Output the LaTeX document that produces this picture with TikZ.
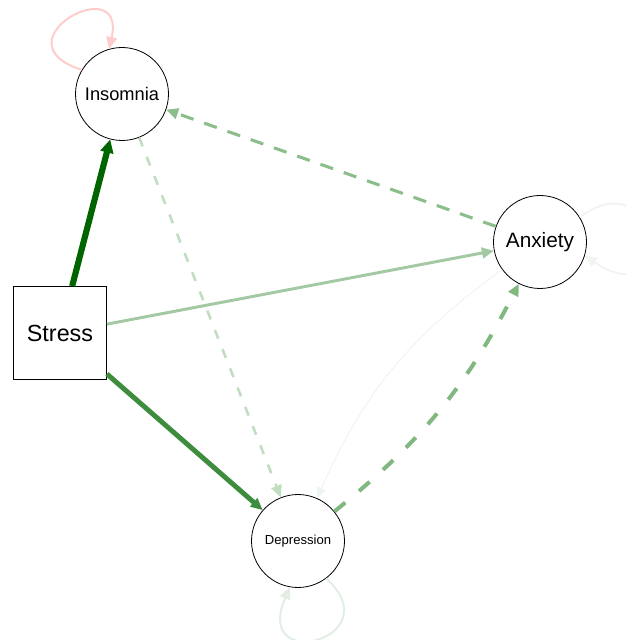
\documentclass[tikz,border=0pt]{standalone}
\usepackage{fontspec}
\setmainfont{Liberation Sans}
\usetikzlibrary{arrows.meta}

% edge colours, strongest to faintest
\definecolor{eDark}{RGB}{0,100,0}
\definecolor{eMid}{RGB}{62,140,62}
\definecolor{eLight}{RGB}{163,201,163}
\definecolor{eDash}{RGB}{140,190,140}
\definecolor{eDashB}{RGB}{128,184,128}
\definecolor{eDashC}{RGB}{192,221,192}
\definecolor{eFaint}{RGB}{238,244,238}
\definecolor{loopPink}{RGB}{255,204,204}
\definecolor{loopFaint}{RGB}{240,245,240}
\definecolor{loopDep}{RGB}{226,238,226}

\begin{document}
\begin{tikzpicture}[x=0.75pt,y=0.75pt,
  var/.style={circle, draw=black, line width=0.6pt, fill=white,
              minimum size=69.75pt, inner sep=0pt},
  obs/.style={rectangle, draw=black, line width=0.6pt, fill=white,
              minimum size=69.75pt, inner sep=0pt},
  tip/.style={-{Triangle[length=9pt,width=8pt]}},
  bigtip/.style={-{Triangle[length=10pt,width=9.5pt]}},
  smalltip/.style={-{Triangle[length=8pt,width=7pt]}},
  loopedge/.style={tip, line width=1.5pt},
]
\clip (0,0) rectangle (626,640);

% variables
\node[obs] (stress) at (60,307) {\fontsize{17.5}{20}\selectfont Stress};
\node[var] (ins) at (122,546) {\fontsize{13.7}{16}\selectfont Insomnia};
\node[var] (anx) at (540,398) {\fontsize{15.6}{18}\selectfont Anxiety};
\node[var] (dep) at (298,99) {\fontsize{9.8}{12}\selectfont Depression};

% self loops
\draw[loopedge, color=loopPink] (ins.149) .. controls +(-88,28) and +(18,80) .. (ins.106);
\draw[loopedge, color=loopFaint] (anx.32) .. controls +(82,60) and +(92,-62) .. (anx.-17);
\draw[loopedge, color=loopDep] (dep.-53) .. controls +(66,-60) and +(-38,-88) .. (dep.-100);

% directed edges from Stress
\draw[bigtip, line width=4.6pt, color=eDark] (stress) -- (ins);
\draw[tip, line width=3.7pt, color=eMid] (stress) -- (dep);
\draw[tip, line width=2.2pt, color=eLight] (stress) -- (anx);

% edges among the symptoms
\draw[tip, line width=2.3pt, color=eDash, dash pattern=on 10pt off 8.5pt] (anx) -- (ins);
\draw[tip, line width=1.9pt, color=eDashC, dash pattern=on 7pt off 8.5pt] (ins) -- (dep);
\draw[tip, line width=3pt, color=eDashB, dash pattern=on 10.5pt off 13.5pt] (dep) to[bend right=12] (anx);
\draw[smalltip, line width=0.7pt, color=eFaint] (anx) to[bend right=15] (dep);
\end{tikzpicture}
\end{document}
